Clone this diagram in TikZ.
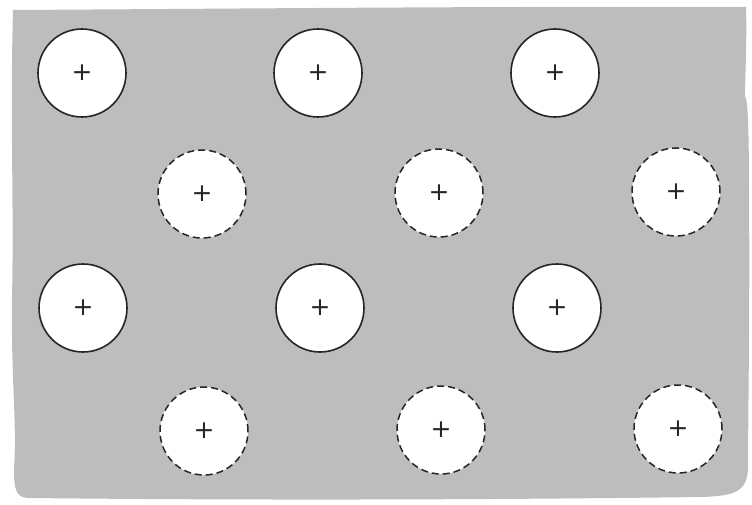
\documentclass[tikz,border=0pt]{standalone}
\usepackage{fontspec}
\setmainfont{DejaVu Sans}
\definecolor{paper}{RGB}{189,189,189}
\tikzset{
  hole/.style={circle, draw=black!85, fill=white, line width=1.6pt, minimum size=88pt, inner sep=0pt,
    text=black!85, font=\fontsize{25}{25}\selectfont},
  solidhole/.style={hole},
  dashhole/.style={hole, line width=1.5pt, dash pattern=on 7pt off 4pt}
}
\begin{document}
\begin{tikzpicture}[x=1pt,y=-1pt]
\useasboundingbox (0,0) rectangle (752,505);
\fill[paper] (13,10) .. controls (200,9) and (500,6) .. (746,7)
  .. controls (747,40) and (745,80) .. (745,96)
  .. controls (748,100) and (749,130) .. (749,200)
  .. controls (750,300) and (748,420) .. (748,470)
  .. controls (746,492) and (735,496) .. (700,497)
  .. controls (550,499) and (300,501) .. (30,498)
  .. controls (17,498) and (14,492) .. (14,470)
  .. controls (17,420) and (11,380) .. (12,300)
  .. controls (14,200) and (10,120) .. (13,10) -- cycle;
\node[solidhole] (a1) at (82,73) {+};
\node[solidhole] (a2) at (318,73) {+};
\node[solidhole] (a3) at (555,73) {+};
\node[dashhole] (b1) at (202,194) {+};
\node[dashhole] (b2) at (439,193) {+};
\node[dashhole] (b3) at (676,192) {+};
\node[solidhole] (c1) at (83,308) {+};
\node[solidhole] (c2) at (320,308) {+};
\node[solidhole] (c3) at (557,308) {+};
\node[dashhole] (d1) at (204,431) {+};
\node[dashhole] (d2) at (441,430) {+};
\node[dashhole] (d3) at (678,429) {+};
\end{tikzpicture}
\end{document}
